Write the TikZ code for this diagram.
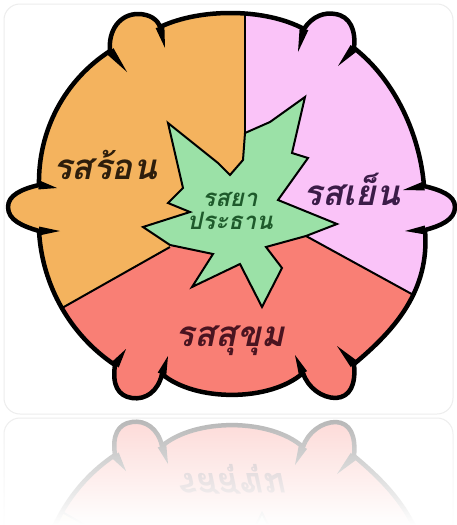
\documentclass[tikz,border=0pt]{standalone}
\usepackage{fontspec}
\newfontfamily\thaifont[Script=Thai]{Loma}
\usetikzlibrary{fadings,calc}
\definecolor{hot}{HTML}{F4B35E}
\definecolor{cool}{HTML}{FAC3F8}
\definecolor{mild}{HTML}{F97F75}
\definecolor{core}{HTML}{9BE1A7}
\definecolor{hotink}{HTML}{2E1E0C}
\definecolor{coolink}{HTML}{3B1C48}
\definecolor{mildink}{HTML}{4A1420}
\definecolor{coreink}{HTML}{1E5A2B}
\tikzfading[name=reflfade, top color=transparent!100, bottom color=transparent!0]

% outer rim with six lobes
\newcommand{\wheelpath}{(110,51)
  .. controls (108,30) and (120,14) .. (138,14)
  .. controls (150,14) and (158,20) .. (160,27)
  .. controls (200,8) and (265,8) .. (304,29)
  .. controls (312,16) and (325,12) .. (335,14)
  .. controls (350,16) and (356,30) .. (354,48)
  .. controls (395,80) and (420,135) .. (424,186)
  .. controls (440,190) and (455,195) .. (455,207)
  .. controls (455,220) and (440,226) .. (425,230)
  .. controls (430,290) and (395,330) .. (354,364)
  .. controls (356,385) and (350,397) .. (336,398)
  .. controls (322,398) and (308,388) .. (303,373)
  .. controls (270,402) and (195,402) .. (162,374)
  .. controls (158,392) and (145,400) .. (132,398)
  .. controls (118,396) and (112,385) .. (115,365)
  .. controls (70,335) and (42,285) .. (39,231)
  .. controls (22,226) and (8,220) .. (8,207)
  .. controls (8,195) and (22,189) .. (39,185)
  .. controls (38,130) and (65,80) .. cycle}

\newcommand{\drawwheel}{%
  \begin{scope}
    \clip \wheelpath;
    \fill[hot] (245,-10) -- (245,200) -- (170,247) -- (-30,360) -- (-30,-10) -- cycle;
    \fill[cool] (245,-10) -- (245,200) -- (306,236) -- (490,337) -- (490,-10) -- cycle;
    \fill[mild] (-30,360) -- (170,247) -- (245,200) -- (306,236) -- (490,337) -- (490,420) -- (-30,420) -- cycle;
    \draw[divider] (245,-10) -- (245,134);
    \draw[divider] (-30,360) -- (170,247);
    \draw[divider] (306,236) -- (490,337);
  \end{scope}
  % centre leaf
  \draw[leaf] (245,133) -- (270,122) -- (305,97) -- (292,153) -- (308,158) -- (278,200)
    -- (337,224) -- (306,236) -- (266,247) -- (282,268) -- (262,307) -- (240,264)
    -- (192,287) -- (213,254) -- (170,245) -- (143,227) -- (190,212) -- (168,203)
    -- (183,188) -- (168,123) -- (218,163) -- (230,175) -- (243,160) -- cycle;
  \draw[rim] \wheelpath;
  % notches of the rim
  \foreach \cx/\cy/\tx/\ty in {110/51/127/72, 160/27/165/48, 304/29/298/52,
      354/48/338/66, 424/186/403/190, 425/230/405/231,
      354/364/337/346, 303/373/295/355, 162/374/168/356,
      115/365/126/349, 39/231/60/231, 39/185/57/188}
    \fill ($(\cx,\cy)!4.5pt!90:(\tx,\ty)$) -- (\tx,\ty) -- ($(\cx,\cy)!4.5pt!-90:(\tx,\ty)$) -- cycle;
}

\begin{document}
\begin{tikzpicture}[x=1pt, y=-1pt,
    rim/.style={line width=4.5pt, line join=round},
    divider/.style={line width=2pt},
    leaf/.style={fill=core, draw=black, line width=2pt},
    lab/.style={font=\fontsize{35}{36}\thaifont\bfseries\itshape, inner sep=0pt},
    mainlab/.style={font=\fontsize{24}{23}\thaifont\bfseries\itshape, align=center, inner sep=0pt},
    frame/.style={draw=black!7, line width=1pt, rounded corners=16pt}]
  \useasboundingbox[fill=white] (0,0) rectangle (457,525);
  \draw[frame] (4,4) rectangle (453,414);
  \drawwheel
  \node[lab, text=hotink] (hot) at (105,165) {รสร้อน};
  \node[lab, text=coolink] (cool) at (352,189) {รสเย็น};
  \node[lab, text=mildink] (mild) at (230,341) {รสสุขุม};
  \node[mainlab, text=coreink] (main) at (230,211) {รสยา\\ประธาน};
  % reflection
  \begin{scope}
    \clip (0,411) rectangle (457,525);
    \draw[frame] (4,418) rectangle (453,560);
    \begin{scope}[transparency group, opacity=0.3, shift={(0,820)}, yscale=-1, transform shape]
      \drawwheel
      \node[lab, text=mildink] (mildrefl) at (230,341) {รสสุขุม};
    \end{scope}
    \fill[white, path fading=reflfade] (0,411) rectangle (457,525);
  \end{scope}
\end{tikzpicture}
\end{document}
